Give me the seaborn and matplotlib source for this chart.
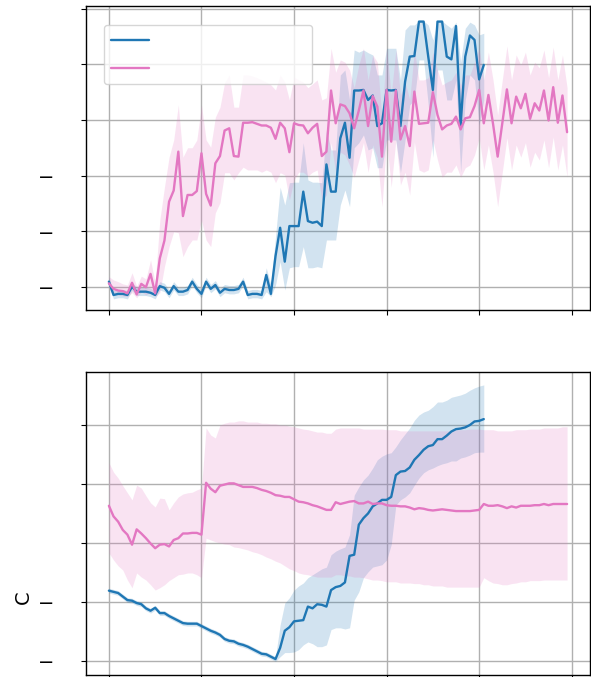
import matplotlib
matplotlib.use("Agg")
import matplotlib.pyplot as plt
import numpy as np
import pandas as pd
import seaborn as sns
from matplotlib.ticker import FuncFormatter, NullFormatter

sns.set_style("ticks", {
    "axes.grid": True,
    "grid.color": "#b0b0b0",
    "axes.edgecolor": "black",
    "axes.labelcolor": "black",
    "text.color": "black",
    "xtick.color": "black",
    "ytick.color": "black",
})
plt.rcParams["font.family"] = ["DejaVu Sans"]

# ---- upper panel: run A (82 steps) and run B (100 steps) ----
top_a_mid = [-2.91, -3.15, -3.13, -3.13, -3.15, -3.00, -3.09, -3.09, -3.09, -3.11,
             -3.15, -2.99, -3.02, -3.13, -2.99, -3.09, -3.09, -3.06, -2.91, -3.04,
             -3.13, -2.91, -3.04, -2.97, -3.11, -3.04, -3.06, -3.06, -3.04, -2.91,
             -3.15, -3.13, -3.13, -3.15, -2.79, -3.13, -2.45, -1.94, -2.55, -1.91,
             -1.91, -1.91, -1.29, -1.82, -1.85, -1.83, -1.91, -0.80, -1.29, -1.29,
             -0.33, -0.05, -0.68, 0.53, 0.53, 0.54, 0.36, 0.44, -0.11, -0.06,
             0.54, 0.53, 0.54, -0.11, 0.69, 1.14, 1.15, 1.77, 1.77, 1.14,
             0.54, 1.77, 1.77, 1.14, 1.09, 1.69, -0.09, 1.14, 1.52, 1.44,
             0.73, 0.99]
top_a_hi = [-2.83, -3.07, -3.05, -3.05, -3.07, -2.92, -3.01, -3.01, -3.01, -3.03,
            -3.07, -2.91, -2.94, -3.05, -2.91, -3.01, -3.01, -2.98, -2.83, -2.96,
            -3.05, -2.83, -2.96, -2.89, -3.03, -2.96, -2.98, -2.98, -2.96, -2.83,
            -3.07, -3.05, -3.05, -3.07, -2.66, -2.97, -2.10, -1.21, -1.53, -1.13,
            -1.12, -1.12, -0.41, -1.08, -1.12, -1.12, -1.13, -0.18, -0.54, -0.54,
            0.81, 0.90, 0.36, 1.26, 1.22, 1.26, 1.21, 1.17, 0.81, 0.81,
            1.29, 1.29, 1.29, 0.72, 1.62, 1.71, 1.71, 1.78, 1.78, 1.71,
            1.44, 1.78, 1.78, 1.71, 1.65, 1.76, 1.04, 1.65, 1.76, 1.71,
            1.53, 1.56]
top_a_lo = [-2.98, -3.22, -3.20, -3.20, -3.22, -3.07, -3.16, -3.16, -3.16, -3.18,
            -3.22, -3.06, -3.09, -3.20, -3.06, -3.16, -3.16, -3.13, -2.98, -3.11,
            -3.20, -2.98, -3.11, -3.04, -3.18, -3.11, -3.13, -3.13, -3.11, -2.98,
            -3.22, -3.20, -3.20, -3.22, -3.09, -3.18, -2.97, -2.55, -3.06, -2.66,
            -2.64, -2.64, -2.28, -2.66, -2.66, -2.64, -2.66, -2.16, -2.16, -2.16,
            -1.53, -1.26, -1.56, -0.50, -0.41, -0.27, -0.54, -0.50, -0.86, -0.86,
            -0.36, -0.36, -0.36, -0.95, -0.36, 0.27, 0.36, 1.08, 1.08, 0.27,
            -0.67, 0.90, 0.90, 0.36, 0.36, 0.72, -0.94, 0.36, 0.81, 0.72,
            -0.09, 0.36]

top_b_mid = [-2.94, -3.04, -3.07, -3.08, -3.12, -2.93, -3.14, -2.95, -3.01, -2.77,
             -3.12, -2.49, -2.17, -1.47, -1.27, -0.57, -1.73, -1.35, -1.35, -1.28,
             -0.60, -1.33, -1.54, -0.78, -0.65, -0.19, -0.15, -0.65, -0.66, -0.05,
             -0.05, -0.04, -0.07, -0.10, -0.10, -0.14, -0.34, -0.05, -0.15, -0.58,
             -0.06, -0.09, -0.10, -0.24, -0.14, -0.07, -0.65, -0.57, 0.53, -0.06,
             0.28, 0.25, 0.12, -0.15, 0.17, 0.53, -0.11, 0.43, 0.24, -0.66,
             0.54, -0.39, 0.53, -0.35, -0.11, -0.47, 0.51, -0.07, -0.06, -0.05,
             0.50, 0.09, -0.17, -0.10, -0.07, 0.06, -0.17, 0.03, 0.05, 0.25,
             0.54, -0.06, 0.45, -0.07, -0.66, -0.06, 0.55, -0.06, 0.42, 0.21,
             0.47, 0.02, 0.30, 0.17, 0.53, -0.01, 0.59, -0.05, 0.44, -0.22]
top_b_hi = [-2.82, -2.88, -2.91, -2.95, -2.97, -2.75, -2.99, -2.81, -2.86, -2.52,
            -2.93, -1.80, -1.21, -0.67, -0.36, 0.27, -0.67, -0.50, -0.50, -0.36,
            0.27, -0.36, -0.49, 0.05, 0.23, 0.67, 0.81, 0.23, 0.23, 0.81,
            0.81, 0.79, 0.76, 0.72, 0.68, 0.63, 0.54, 0.81, 0.68, 0.36,
            0.77, 0.72, 0.68, 0.58, 0.65, 0.72, 0.36, 0.40, 1.29, 0.86,
            1.08, 1.04, 0.90, 0.58, 0.99, 1.29, 0.72, 1.17, 1.04, 0.05,
            1.29, 0.45, 1.26, 0.45, 0.68, 0.36, 1.26, 0.72, 0.72, 0.76,
            1.22, 0.90, 0.63, 0.68, 0.72, 0.86, 0.63, 0.81, 0.81, 1.04,
            1.29, 0.72, 1.22, 0.72, 0.09, 0.72, 1.33, 0.72, 1.17, 0.99,
            1.22, 0.81, 1.04, 0.94, 1.26, 0.76, 1.31, 0.72, 1.17, 0.58]
top_b_lo = [-3.02, -3.13, -3.15, -3.17, -3.18, -3.11, -3.20, -3.09, -3.15, -3.09,
            -3.18, -3.11, -2.64, -2.28, -2.01, -2.03, -2.46, -2.28, -2.16, -2.16,
            -1.80, -2.16, -2.28, -1.67, -1.49, -0.95, -0.95, -1.08, -0.95, -0.85,
            -0.90, -0.90, -0.90, -0.94, -0.90, -0.94, -1.13, -0.95, -0.99, -1.44,
            -1.08, -0.94, -0.94, -1.01, -0.94, -0.90, -1.44, -1.35, -0.41, -0.94,
            -0.58, -0.63, -0.81, -1.03, -0.72, -0.41, -0.94, -0.45, -0.68, -1.56,
            -0.36, -1.21, -0.36, -1.17, -0.94, -1.35, -0.40, -0.90, -0.94, -0.90,
            -0.36, -0.72, -1.03, -0.94, -0.94, -0.81, -1.03, -0.86, -0.81, -0.63,
            -0.32, -0.90, -0.45, -0.94, -1.56, -0.94, -0.32, -0.90, -0.45, -0.67,
            -0.41, -0.85, -0.58, -0.72, -0.36, -0.86, -0.31, -0.90, -0.45, -1.03]

# ---- lower panel (C) ----
bot_a_mid = [-0.81, -0.83, -0.85, -0.91, -0.97, -0.98, -1.02, -1.04, -1.11, -1.15,
             -1.10, -1.19, -1.19, -1.24, -1.28, -1.32, -1.36, -1.37, -1.37, -1.37,
             -1.41, -1.45, -1.49, -1.52, -1.56, -1.63, -1.66, -1.67, -1.71, -1.73,
             -1.76, -1.80, -1.84, -1.88, -1.89, -1.93, -1.97, -1.78, -1.49, -1.43,
             -1.33, -1.32, -1.31, -1.08, -1.11, -1.04, -1.05, -1.08, -0.80, -0.75,
             -0.73, -0.67, -0.22, -0.20, 0.31, 0.42, 0.50, 0.62, 0.67, 0.73,
             0.73, 0.78, 1.15, 1.21, 1.22, 1.28, 1.41, 1.49, 1.58, 1.64,
             1.66, 1.76, 1.76, 1.82, 1.89, 1.93, 1.94, 1.96, 2.00, 2.06,
             2.07, 2.10]
bot_a_hi = [-0.77, -0.79, -0.81, -0.87, -0.93, -0.94, -0.98, -1.00, -1.07, -1.11,
            -1.06, -1.15, -1.15, -1.20, -1.24, -1.28, -1.32, -1.33, -1.33, -1.33,
            -1.37, -1.41, -1.45, -1.48, -1.52, -1.59, -1.62, -1.63, -1.67, -1.69,
            -1.72, -1.76, -1.80, -1.84, -1.85, -1.89, -1.93, -1.39, -1.02, -0.93,
            -0.80, -0.73, -0.68, -0.59, -0.54, -0.49, -0.44, -0.41, -0.20, -0.14,
            -0.10, -0.07, 0.14, 0.81, 0.95, 1.07, 1.15, 1.27, 1.41, 1.47,
            1.51, 1.53, 1.63, 1.75, 1.85, 1.95, 2.08, 2.17, 2.22, 2.25,
            2.31, 2.39, 2.39, 2.42, 2.47, 2.49, 2.51, 2.54, 2.59, 2.63,
            2.66, 2.68]
bot_a_lo = [-0.85, -0.87, -0.89, -0.95, -1.01, -1.02, -1.06, -1.08, -1.15, -1.19,
            -1.14, -1.23, -1.23, -1.28, -1.32, -1.36, -1.40, -1.41, -1.41, -1.41,
            -1.45, -1.49, -1.53, -1.56, -1.60, -1.67, -1.70, -1.71, -1.75, -1.77,
            -1.80, -1.84, -1.88, -1.92, -1.93, -1.97, -2.01, -1.93, -1.86, -1.86,
            -1.85, -1.81, -1.73, -1.68, -1.71, -1.76, -1.76, -1.73, -1.47, -1.44,
            -1.44, -1.46, -1.44, -0.97, -0.83, -0.59, -0.49, -0.41, -0.39, -0.37,
            -0.29, -0.03, 0.64, 0.73, 0.78, 0.85, 0.98, 1.10, 1.19, 1.24,
            1.27, 1.31, 1.34, 1.36, 1.39, 1.39, 1.44, 1.46, 1.49, 1.53,
            1.54, 1.54]

bot_b_mid = [0.63, 0.45, 0.36, 0.22, 0.14, -0.03, 0.23, 0.16, 0.08, -0.01,
             -0.09, -0.03, -0.02, -0.06, 0.05, 0.08, 0.16, 0.16, 0.17, 0.17,
             0.14, 1.02, 0.92, 0.86, 0.97, 0.99, 1.01, 1.01, 0.98, 0.95,
             0.95, 0.95, 0.93, 0.90, 0.88, 0.85, 0.81, 0.80, 0.78, 0.78,
             0.74, 0.70, 0.69, 0.67, 0.64, 0.62, 0.59, 0.56, 0.56, 0.69,
             0.66, 0.68, 0.70, 0.71, 0.67, 0.67, 0.70, 0.66, 0.67, 0.67,
             0.64, 0.63, 0.63, 0.62, 0.62, 0.60, 0.57, 0.59, 0.58, 0.56,
             0.55, 0.56, 0.57, 0.56, 0.55, 0.54, 0.54, 0.54, 0.54, 0.55,
             0.56, 0.66, 0.63, 0.63, 0.64, 0.62, 0.59, 0.62, 0.60, 0.63,
             0.63, 0.63, 0.64, 0.64, 0.66, 0.64, 0.66, 0.66, 0.66, 0.66]
bot_b_hi = [1.36, 1.20, 1.10, 0.97, 0.85, 0.73, 0.98, 0.93, 0.80, 0.68,
            0.61, 0.76, 0.75, 0.56, 0.68, 0.78, 0.83, 0.85, 0.86, 0.90,
            0.93, 1.95, 1.83, 1.78, 2.00, 2.03, 2.05, 2.05, 2.07, 2.07,
            2.05, 2.05, 2.05, 2.03, 2.03, 2.02, 2.02, 2.00, 2.00, 1.98,
            1.97, 1.95, 1.93, 1.92, 1.90, 1.88, 1.88, 1.86, 1.86, 1.93,
            1.95, 1.95, 1.95, 1.95, 1.95, 1.93, 1.93, 1.93, 1.93, 1.93,
            1.92, 1.92, 1.92, 1.90, 1.90, 1.90, 1.90, 1.90, 1.90, 1.90,
            1.90, 1.90, 1.90, 1.90, 1.90, 1.92, 1.92, 1.92, 1.93, 1.93,
            1.93, 1.92, 1.92, 1.92, 1.90, 1.90, 1.90, 1.90, 1.92, 1.92,
            1.92, 1.93, 1.93, 1.93, 1.95, 1.95, 1.95, 1.95, 1.97, 1.97]
bot_b_lo = [-0.17, -0.29, -0.39, -0.46, -0.63, -0.76, -0.51, -0.58, -0.63, -0.71,
            -0.80, -0.76, -0.71, -0.64, -0.59, -0.54, -0.53, -0.51, -0.51, -0.54,
            -0.59, 0.08, 0.05, 0.02, 0.00, -0.02, -0.03, -0.07, -0.08, -0.10,
            -0.12, -0.15, -0.17, -0.20, -0.24, -0.27, -0.31, -0.34, -0.39, -0.44,
            -0.47, -0.51, -0.53, -0.54, -0.56, -0.58, -0.58, -0.58, -0.58, -0.54,
            -0.54, -0.56, -0.56, -0.58, -0.58, -0.59, -0.61, -0.63, -0.63, -0.64,
            -0.66, -0.66, -0.66, -0.68, -0.68, -0.68, -0.69, -0.69, -0.71, -0.71,
            -0.73, -0.73, -0.73, -0.75, -0.75, -0.75, -0.75, -0.75, -0.75, -0.75,
            -0.75, -0.59, -0.64, -0.68, -0.69, -0.71, -0.71, -0.69, -0.68, -0.66,
            -0.66, -0.64, -0.64, -0.64, -0.63, -0.63, -0.63, -0.63, -0.63, -0.63]

run_names = ["run A", "run B"]
palette = {"run A": "#1f77b4", "run B": "#e377c2"}
x_ticks = [0, 20, 40, 60, 80, 100]


def long_frame(series):
    """Stack lower / central / upper values per step so that the median is the
    line and the full percentile interval is the shaded band."""
    rows = []
    for name, (lo, mid, hi) in series.items():
        for step, triple in enumerate(zip(lo, mid, hi)):
            for v in triple:
                rows.append((name, step, v))
    return pd.DataFrame(rows, columns=["run", "step", "value"])


top_df = long_frame({"run A": (top_a_lo, top_a_mid, top_a_hi),
                     "run B": (top_b_lo, top_b_mid, top_b_hi)})
bot_df = long_frame({"run A": (bot_a_lo, bot_a_mid, bot_a_hi),
                     "run B": (bot_b_lo, bot_b_mid, bot_b_hi)})

fig = plt.figure(figsize=(5.91, 6.77), dpi=100)
ax_top = fig.add_axes([0.1455, 0.5421, 0.8528, 0.4490])
ax_bot = fig.add_axes([0.1455, 0.0030, 0.8528, 0.4476])

minus_only = FuncFormatter(lambda v, pos: "\u2212" if v < 0 else "")

panels = [(ax_top, top_df, [-3, -2, -1, 0, 1, 2], (-3.42, 2.05)),
          (ax_bot, bot_df, [-2, -1, 0, 1, 2], (-2.24, 2.90))]
for ax, df, yt, ylim in panels:
    sns.lineplot(data=df, x="step", y="value", hue="run", hue_order=run_names,
                 palette=palette, estimator="median", errorbar=("pi", 100),
                 err_kws={"linewidth": 0}, linewidth=1.7, legend=False, ax=ax)
    ax.set_xlim(-4.95, 103.95)
    ax.set_ylim(*ylim)
    ax.set_xticks(x_ticks)
    ax.set_yticks(yt)
    ax.xaxis.set_major_formatter(NullFormatter())
    ax.yaxis.set_major_formatter(minus_only)
    ax.tick_params(axis="y", labelsize=14, pad=19)
    ax.grid(True, color="#b0b0b0", linewidth=1.0)
    ax.set_xlabel("")
    ax.set_ylabel("")
    for sp in ax.spines.values():
        sp.set_color("black")
        sp.set_linewidth(1.0)

ax_bot.set_ylabel("C", fontsize=14, color="black")
ax_bot.yaxis.set_label_coords(-0.106, 0.257)

handles = ax_top.get_lines()[:2]
ax_top.legend(handles, [" ", " "], loc="upper left",
              bbox_to_anchor=(0.0357, 0.5, 0.4127, 0.4375), mode="expand",
              borderaxespad=0, fontsize=12, handlelength=2.3, labelspacing=0.6)

fig.savefig("out.png", dpi=100)
